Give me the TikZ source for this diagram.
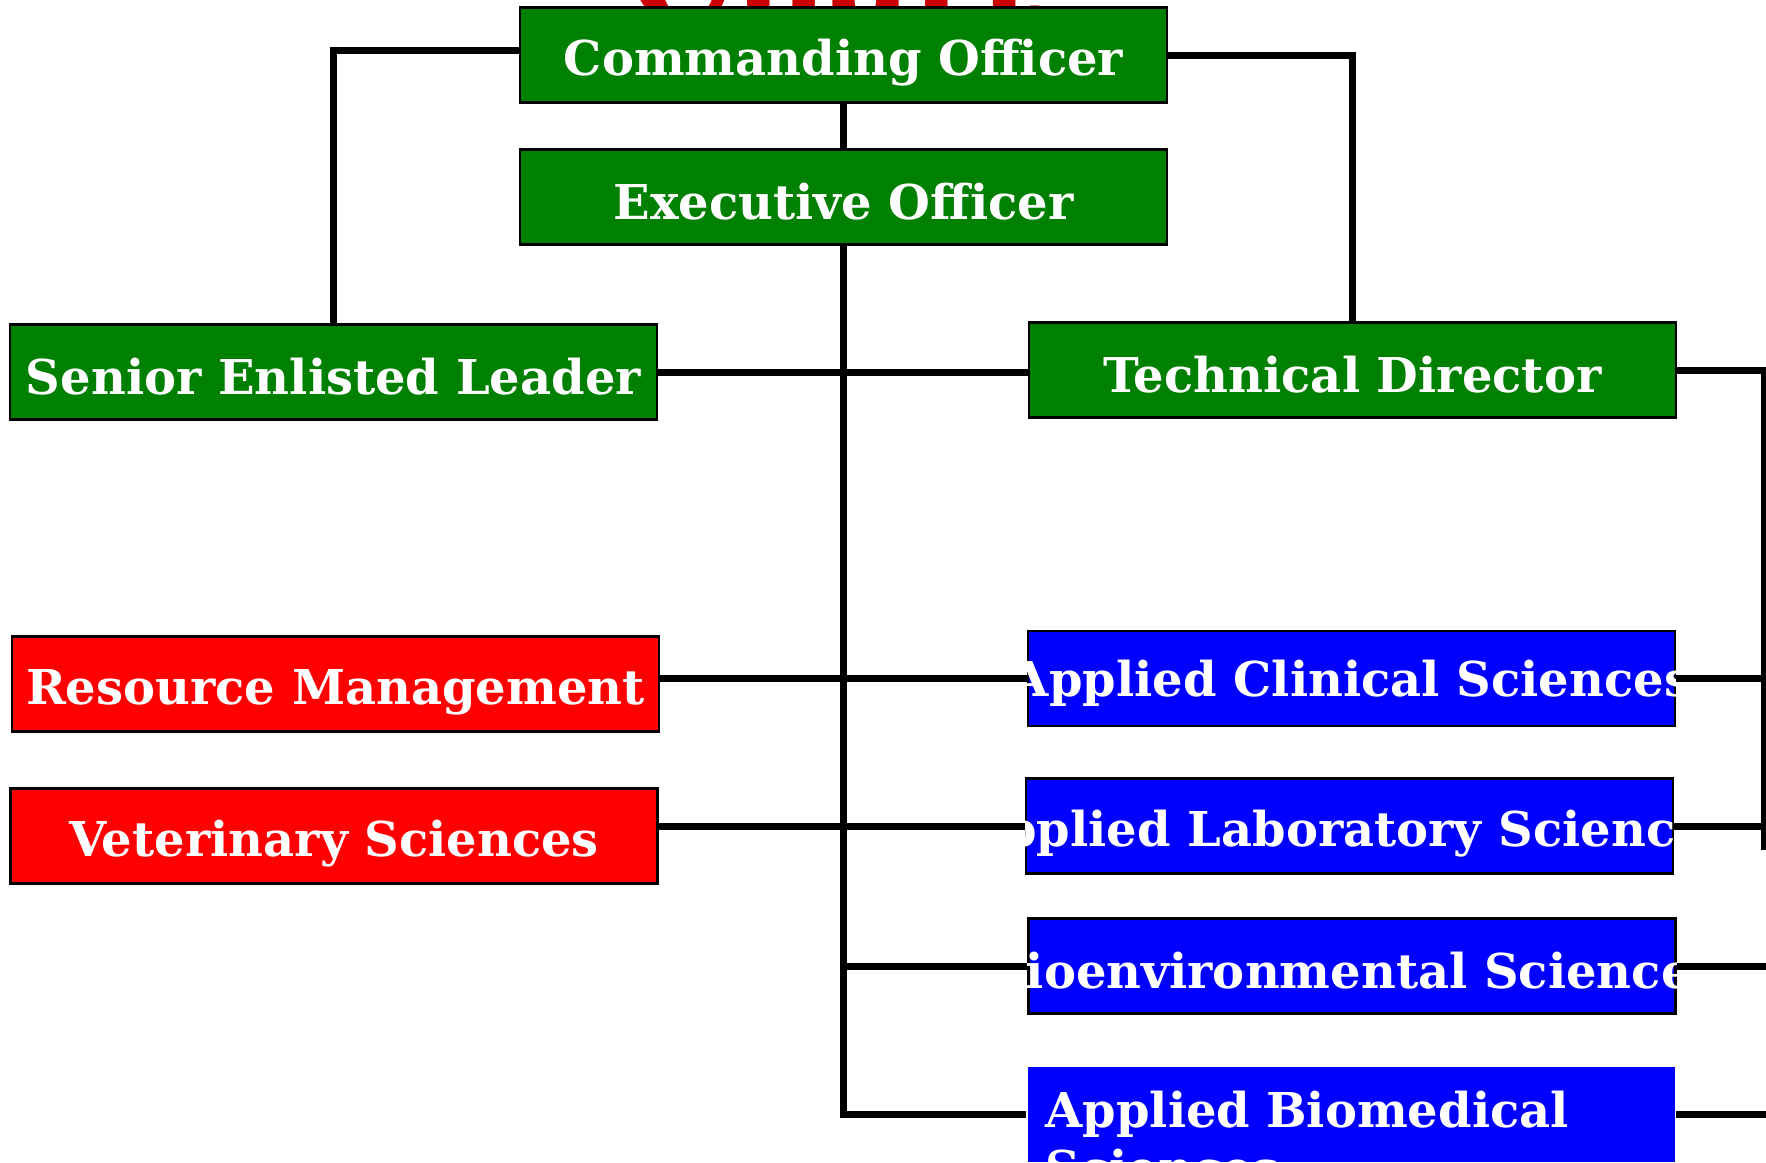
\documentclass[tikz,border=0pt]{standalone}
\usepackage{fontspec}
\setmainfont{DejaVu Serif}
\usepackage{xcolor}
\usetikzlibrary{calc,positioning}
\definecolor{cogreen}{RGB}{0,128,0}
\definecolor{titlered}{RGB}{204,0,0}
\tikzset{%
	unit/.style  = {draw, line width=2.5pt, rectangle, minimum width=647pt, minimum height=95pt, inner sep=0pt},
	lbl/.style   = {text=white, font=\fontsize{48}{58}\selectfont\bfseries, inner sep=0pt, yshift=-5pt},
	lbllow/.style= {lbl, yshift=-3pt},
	link/.style  = {line width=7pt},
	title/.style = {text=titlered, font=\fontsize{130}{130}\selectfont\bfseries},
}
\begin{document}
\begin{tikzpicture}[x=1pt,y=-1pt]
	\useasboundingbox (0,0) rectangle (1766,1162);
	\node[title, anchor=base] (ttl) at (835,22) {Chart};  % title, mostly off the page
	
	% command group
	\node[unit, fill=cogreen, label={[lbllow]center:Commanding Officer}] (co) at (843.5,55) {};
	\node[unit, fill=cogreen, label={[lbl]center:Executive Officer}] (xo) at (843.5,197) {};
	\node[unit, fill=cogreen, label={[lbl]center:Senior Enlisted Leader}] (sel) at (333.5,372) {};
	\node[unit, fill=cogreen, label={[lbl]center:Technical Director}] (td) at (1352.5,370) {};
	
	% support
	\node[unit, fill=red, label={[lbllow]center:Resource Management}] (rm) at (335.5,684) {};
	\node[unit, fill=red, label={[lbllow]center:Veterinary Sciences}] (vs) at (334,836) {};
	
	% departments
	\node[unit, fill=blue, label={[lbl]center:Applied Clinical Sciences}] (acs) at (1351.5,678.5) {};
	\node[unit, fill=blue, label={[lbllow]center:Applied Laboratory Sciences}] (als) at (1349.5,826) {};
	\node[unit, fill=blue, label={[lbl]center:Bioenvironmental Sciences}] (bes) at (1352,966) {};
	\node[unit, draw=none, fill=blue] (abs) at (1351,1114.5) {};
	\node[lbl, yshift=0pt, text width=600pt, align=left, anchor=north west] (abstxt) at ([xshift=19pt,yshift=-20pt]abs.north west) {Applied Biomedical Sciences};
	
	\coordinate (rbus) at (1764,0);
	\coordinate (rbusend) at (1764,850);
	\coordinate (redge) at (1780,0);
	
	% links
	\draw[link] ([yshift=5pt]co.west) -| (sel.north);
	\draw[link] (co.east) -| (td.north);
	\draw[link] (co.south) -- (xo.north);
	\draw[link] (sel.east) -- (sel.east -| td.west);
	\draw[link] (xo.south) -- (xo.south |- abs.west) -- (abs.west);
	\draw[link] (xo.south |- bes.west) -- (bes.west);
	\draw[link] (rm.east |- acs.west) -- (acs.west);
	\draw[link] (vs.east |- als.west) -- (als.west);
	
	\draw[link] (td.east) -- (td.east -| rbus) -- (rbusend);
	\draw[link] (acs.east) -- (acs.east -| redge);
	\draw[link] (als.east) -- (als.east -| redge);
	\draw[link] (bes.east) -- (bes.east -| redge);
	\draw[link] (abs.east) -- (abs.east -| redge);
\end{tikzpicture}
\end{document}
